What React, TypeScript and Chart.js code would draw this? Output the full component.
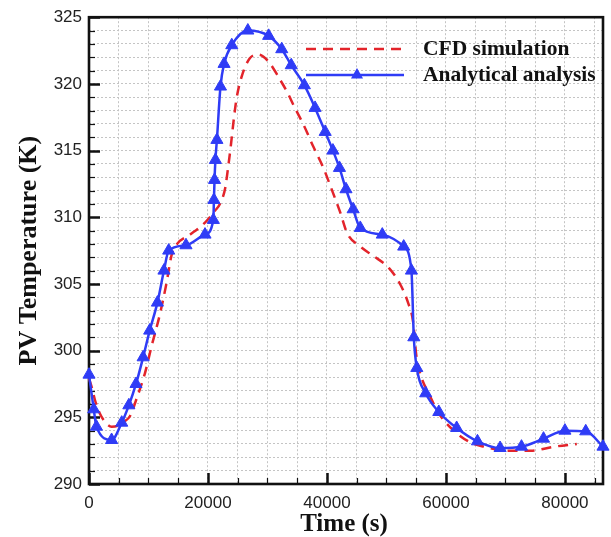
import React, { useEffect, useRef } from 'react';
import { Chart, registerables } from 'chart.js';

Chart.register(...registerables);

// Analytical model: PV temperature (K) over one day (s)
const anaTime = [
  0, 800, 1250, 3800, 5500, 6700, 7900, 9100, 10200, 11500, 12600, 13400,
  16300, 19500, 20900, 21000, 21100, 21250, 21500, 22100, 22700, 24000,
  26700, 30200, 32400, 34000, 36200, 38000, 39700, 41000, 42100, 43200,
  44400, 45600, 49300, 52900, 54200, 54600, 55100, 56600, 58800, 61800,
  65300, 69100, 72700, 76400, 80000, 83500, 86400,
];
const anaTemp = [
  298.2, 295.6, 294.3, 293.3, 294.6, 295.9, 297.5, 299.5, 301.5, 303.6, 306.0, 307.5,
  307.9, 308.7, 309.8, 311.3, 312.8, 314.3, 315.8, 319.8, 321.5, 322.9,
  324.0, 323.6, 322.6, 321.4, 319.9, 318.2, 316.4, 315.0, 313.7, 312.1,
  310.6, 309.2, 308.7, 307.8, 306.0, 301.0, 298.7, 296.8, 295.4, 294.2,
  293.2, 292.7, 292.8, 293.4, 294.0, 293.95, 292.8,
];

// CFD simulation: PV temperature (K) over one day (s)
const cfdTime = [
  0, 500, 1000, 1800, 2800, 3800, 5000, 6000, 6900, 8000, 9400, 10500,
  11900, 13000, 13900, 14800, 17000, 19500, 21200, 22000, 22900, 23400,
  23800, 24300, 24800, 25700, 27000, 28500, 30300, 32000, 33300, 34500,
  36200, 37700, 39400, 40700, 42200, 43400, 45600, 47800, 50400, 52400,
  53700, 54500, 55000, 55800, 57100, 58800, 61300, 64200, 66400, 70300,
  74300, 78200, 82000,
];
const cfdTemp = [
  297.9, 297.2, 296.3, 295.3, 294.6, 294.3, 294.4, 294.7, 295.1, 296.4, 298.3, 300.3,
  302.7, 305.0, 307.2, 308.0, 308.7, 309.6, 310.5, 311.0, 312.2, 313.8,
  315.2, 317.2, 318.9, 320.6, 321.9, 322.2, 321.6, 320.4, 319.4, 318.3,
  316.8, 315.3, 313.7, 312.2, 310.4, 308.8, 307.8, 307.1, 306.2, 304.9,
  303.5, 302.1, 299.7, 298.1, 296.8, 295.3, 294.0, 293.1, 292.8, 292.5,
  292.5, 292.8, 293.0,
];

const seriesNames = ['CFD simulation', 'Analytical analysis'];
const xTickLabels = [0, 20000, 40000, 60000, 80000];
const yTickLabels = [290, 295, 300, 305, 310, 315, 320, 325];
const xTitle = 'Time (s)';
const yTitle = 'PV Temperature (K)';

const W = 611;
const H = 537;
const X_MAX = 86400;
const RED = '#e3242b';
const BLUE = '#2f3cf6';
const SERIF = '"Liberation Serif", "Times New Roman", serif';
const SANS = '"Liberation Sans", Arial, sans-serif';

function range(a: number, b: number, step: number): number[] {
  const out: number[] = [];
  for (let v = a; v <= b + 1e-9; v += step) out.push(v);
  return out;
}

// Frame, inward tick marks, axis titles and the in-plot legend
const decorations = {
  id: 'decorations',
  beforeDatasetsDraw(chart: any) {
    const { ctx, chartArea: a, scales } = chart;
    const xs = scales.x;
    const ys = scales.y;
    ctx.save();
    ctx.strokeStyle = '#111';
    // y ticks pointing into the plot
    for (let v = 290; v <= 325; v++) {
      const y = Math.round(ys.getPixelForValue(v)) + 0.5;
      const major = v % 5 === 0;
      ctx.lineWidth = major ? 2.5 : 1.2;
      ctx.beginPath();
      ctx.moveTo(a.left, y);
      ctx.lineTo(a.left + (major ? 11 : 6), y);
      ctx.stroke();
    }
    // x ticks pointing into the plot
    for (let v = 0; v <= 85000; v += 5000) {
      const x = Math.round(xs.getPixelForValue(v)) + 0.5;
      const major = v % 20000 === 0;
      ctx.lineWidth = major ? 2.5 : 1.2;
      ctx.beginPath();
      ctx.moveTo(x, a.bottom);
      ctx.lineTo(x, a.bottom - (major ? 11 : 6));
      ctx.stroke();
    }
    ctx.lineWidth = 2.6;
    ctx.strokeRect(a.left, a.top, a.right - a.left, a.bottom - a.top);
    ctx.restore();
  },
  afterDraw(chart: any) {
    const { ctx, chartArea: a } = chart;
    ctx.save();
    ctx.fillStyle = '#111';
    ctx.font = `bold 25px ${SERIF}`;
    ctx.textAlign = 'center';
    ctx.textBaseline = 'alphabetic';
    ctx.fillText(xTitle, 344, 531);
    ctx.textBaseline = 'middle';
    ctx.font = `bold 26px ${SERIF}`;
    ctx.translate(29, (a.top + a.bottom) / 2);
    ctx.rotate(-Math.PI / 2);
    ctx.fillText(yTitle, 0, 0);
    ctx.restore();

    // legend
    ctx.save();
    const x0 = 306;
    const x1 = 404;
    const y0 = 49;
    const y1 = 75;
    ctx.lineWidth = 2.5;
    ctx.strokeStyle = RED;
    ctx.setLineDash([10, 7]);
    ctx.beginPath();
    ctx.moveTo(x0, y0);
    ctx.lineTo(x1, y0);
    ctx.stroke();
    ctx.setLineDash([]);
    ctx.strokeStyle = BLUE;
    ctx.beginPath();
    ctx.moveTo(x0, y1);
    ctx.lineTo(x1, y1);
    ctx.stroke();
    const r = 7;
    const cx = 357;
    ctx.fillStyle = BLUE;
    ctx.beginPath();
    ctx.moveTo(cx, y1 - r);
    ctx.lineTo(cx + r * 0.866, y1 + r * 0.5);
    ctx.lineTo(cx - r * 0.866, y1 + r * 0.5);
    ctx.closePath();
    ctx.fill();
    ctx.fillStyle = '#111';
    ctx.font = `bold 21.5px ${SERIF}`;
    ctx.textAlign = 'left';
    ctx.textBaseline = 'middle';
    ctx.fillText(seriesNames[0], 423, y0);
    ctx.fillText(seriesNames[1], 423, y1);
    ctx.restore();
  },
};

export default function App() {
  const ref = useRef<HTMLCanvasElement>(null);

  useEffect(() => {
    const canvas = ref.current;
    if (!canvas) return;
    const gridCommon = {
      color: '#c4c4c4',
      lineWidth: 1,
      drawTicks: false,
    };
    const chart = new Chart(canvas, {
      type: 'line',
      data: {
        datasets: [
          {
            label: seriesNames[1],
            data: anaTime.map((t, i) => ({ x: t, y: anaTemp[i] })),
            borderColor: BLUE,
            backgroundColor: BLUE,
            borderWidth: 2.5,
            pointStyle: 'triangle',
            pointRadius: 7,
            pointBorderWidth: 1,
            pointBackgroundColor: BLUE,
            pointBorderColor: BLUE,
            cubicInterpolationMode: 'monotone',
            fill: false,
            clip: false,
          },
          {
            label: seriesNames[0],
            data: cfdTime.map((t, i) => ({ x: t, y: cfdTemp[i] })),
            borderColor: RED,
            borderWidth: 2.5,
            borderDash: [10, 7],
            pointRadius: 0,
            cubicInterpolationMode: 'monotone',
            fill: false,
            clip: false,
          },
        ],
      },
      options: {
        responsive: false,
        animation: false,
        events: [],
        layout: { padding: { top: 15, right: 8, left: 0, bottom: 0 } },
        plugins: {
          legend: { display: false },
          tooltip: { enabled: false },
          title: { display: false },
        },
        scales: {
          x: {
            type: 'linear',
            min: 0,
            max: X_MAX,
            afterBuildTicks: (s: any) => {
              s.ticks = range(0, 85000, 5000).map((v) => ({ value: v }));
            },
            afterFit: (s: any) => {
              s.height = 53;
            },
            ticks: {
              autoSkip: false,
              maxRotation: 0,
              padding: 9,
              color: '#222',
              font: { family: SANS, size: 17 },
              callback: (v: any) => (xTickLabels.includes(v) ? String(v) : ''),
            },
            grid: gridCommon,
            border: { display: false, dash: [2, 2] },
          },
          y: {
            type: 'linear',
            min: 290,
            max: 325,
            afterBuildTicks: (s: any) => {
              s.ticks = range(290, 325, 1).map((v) => ({ value: v }));
            },
            afterFit: (s: any) => {
              s.width = 89;
            },
            ticks: {
              autoSkip: false,
              padding: 7,
              color: '#222',
              font: { family: SANS, size: 17 },
              callback: (v: any) => (yTickLabels.includes(v) ? String(v) : ''),
            },
            grid: gridCommon,
            border: { display: false, dash: [2, 2] },
          },
        },
      },
      plugins: [decorations],
    } as any);
    return () => chart.destroy();
  }, []);

  return (
    <div style={{ position: 'absolute', left: 0, top: 0, width: W, height: H, background: '#fff' }}>
      <canvas ref={ref} width={W} height={H} style={{ display: 'block', width: W, height: H }} />
    </div>
  );
}
